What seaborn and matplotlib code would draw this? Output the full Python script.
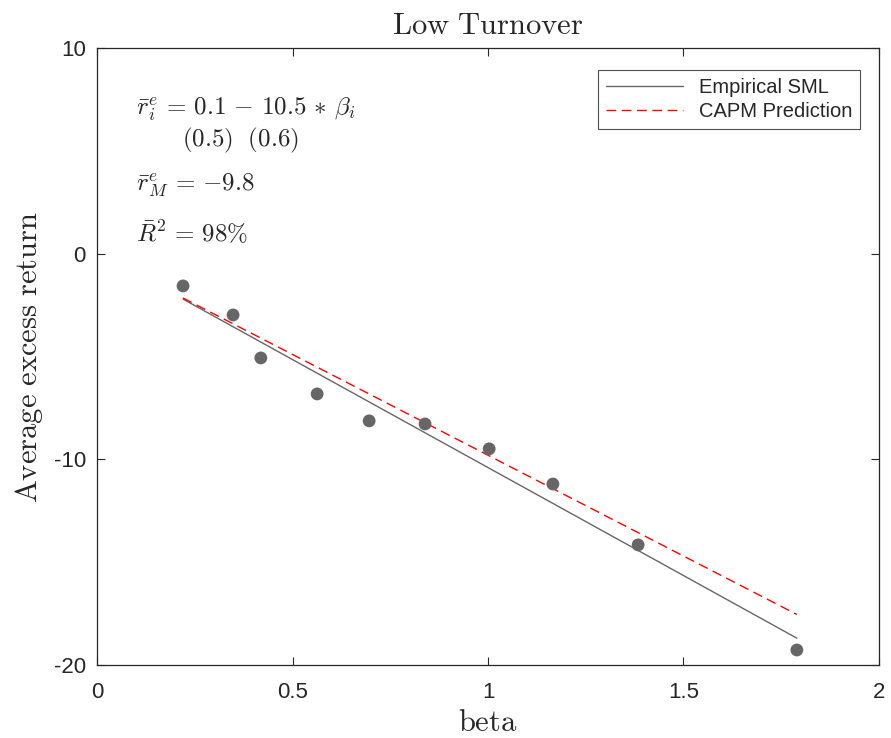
import matplotlib
matplotlib.use("Agg")
import matplotlib.pyplot as plt
import numpy as np
import pandas as pd
import seaborn as sns

# portfolio betas and average excess returns
beta = [0.22, 0.348, 0.419, 0.563, 0.696, 0.839, 1.003, 1.166, 1.384, 1.790]
avg_ret = [-1.57, -2.98, -5.07, -6.82, -8.13, -8.28, -9.49, -11.2, -14.16, -19.27]

# fitted SML and CAPM coefficients shown in the annotation
sml_intercept = 0.1
sml_slope = -10.5
market_ret = -9.8

sns.set_style("white")
plt.rcParams["font.family"] = ["Liberation Sans", "DejaVu Sans"]
plt.rcParams["mathtext.fontset"] = "cm"

df = pd.DataFrame({"beta": beta, "ret": avg_ret})
b_line = np.array([min(beta), max(beta)])
lines = pd.DataFrame({
    "beta": np.concatenate([b_line, b_line]),
    "ret": np.concatenate([sml_intercept + sml_slope * b_line, market_ret * b_line]),
    "kind": ["Empirical SML"] * 2 + ["CAPM Prediction"] * 2,
})

fig = plt.figure(figsize=(8.91, 7.38), dpi=100)
ax = fig.add_axes([0.1089, 0.0989, 0.8776, 0.8361])

sns.lineplot(data=lines, x="beta", y="ret", hue="kind", style="kind",
             palette={"Empirical SML": "#666666", "CAPM Prediction": "#ff0000"},
             dashes={"Empirical SML": "", "CAPM Prediction": (7, 4)},
             linewidth=1, ax=ax)
sns.scatterplot(data=df, x="beta", y="ret", color="#666666", s=85,
                edgecolor="none", ax=ax, legend=False, zorder=3)

ax.set_xlim(0, 2)
ax.set_ylim(-20, 10)
ax.set_xticks([0, 0.5, 1, 1.5, 2])
ax.set_xticklabels(["0", "0.5", "1", "1.5", "2"])
ax.set_yticks([-20, -10, 0, 10])
ax.set_yticklabels(["-20", "-10", "0", "10"])
ax.tick_params(direction="in", bottom=True, left=True, top=True, right=True,
               length=6, width=0.8, labelsize=16, colors="#262626")
ax.tick_params(axis="x", pad=12)
ax.tick_params(axis="y", pad=8)
for sp in ax.spines.values():
    sp.set_color("#262626")
    sp.set_linewidth(0.9)

ax.set_title(r"$\mathrm{Low\ Turnover}$", fontsize=22, pad=10)
ax.set_xlabel(r"$\mathrm{beta}$", fontsize=22, labelpad=4)
ax.set_ylabel(r"$\mathrm{Average\ excess\ return}$", fontsize=22, labelpad=6)

ax.text(0.1, 7.0, r"$\bar{r}^e_i \,=\, 0.1 \,-\, 10.5 \,*\, \beta_i$", fontsize=18, va="center")
ax.text(0.218, 5.5, r"$(0.5)\ \ (0.6)$", fontsize=18, va="center")
ax.text(0.1, 3.3, r"$\bar{r}^e_M \,=\, {-9.8}$", fontsize=18, va="center")
ax.text(0.1, 1.0, r"$\bar{R}^2 \,=\, 98\%$", fontsize=18, va="center")

leg = ax.legend(loc="upper right", fontsize=14.5, frameon=True, fancybox=False,
                handlelength=3.8, borderpad=0.4, labelspacing=0.25,
                borderaxespad=0, bbox_to_anchor=(0.976, 0.965))
leg.get_frame().set_edgecolor("#262626")
leg.get_frame().set_linewidth(0.8)

fig.savefig("out.png", dpi=100)
